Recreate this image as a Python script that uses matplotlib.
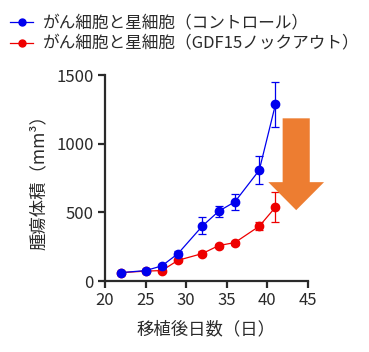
import matplotlib
matplotlib.use("Agg")
import matplotlib.pyplot as plt
from matplotlib.patches import FancyArrow
from matplotlib.lines import Line2D

plt.rcParams['font.family'] = ['Noto Sans CJK JP', 'DejaVu Sans']

# Tumour volume (mm^3) by day after transplantation
days = [22, 25, 27, 29, 32, 34, 36, 39, 41]
ctrl_mean = [61, 76, 110, 200, 401, 508, 577, 807, 1287]
ctrl_err = [8, 10, 15, 20, 62, 40, 60, 102, 163]
ko_mean = [61, 72, 76, 151, 200, 258, 280, 399, 538]
ko_err = [6, 8, 10, 12, 15, 15, 15, 30, 107]

ctrl_label = "がん細胞と星細胞（コントロール）"
ko_label = "がん細胞と星細胞（GDF15ノックアウト）"
xticks = [20, 25, 30, 35, 40, 45]
yticks = [0, 500, 1000, 1500]

blue = "#0000EE"
red = "#EE0000"
ink = "#2a2a2a"

fig = plt.figure(figsize=(3.69, 3.52), dpi=100)
ax = fig.add_axes([0.2846, 0.2017, 0.55, 0.585])

ax.errorbar(days, ctrl_mean, yerr=ctrl_err, color=blue, marker='o', ms=6,
            lw=0.9, elinewidth=0.9, capsize=3, capthick=0.9, zorder=3)
ax.errorbar(days, ko_mean, yerr=ko_err, color=red, marker='o', ms=6,
            lw=0.9, elinewidth=0.9, capsize=3, capthick=0.9, zorder=2)

# Downward arrow marking the reduction at day 41
arrow = FancyArrow(43.55, 1185, 0, -669, width=3.34, head_width=6.86,
                   head_length=204, length_includes_head=True,
                   color="#ED7D31", lw=0, clip_on=False, zorder=4)
ax.add_patch(arrow)

ax.set_xlim(20, 45)
ax.set_ylim(0, 1500)
ax.set_xticks(xticks)
ax.set_yticks(yticks)
for s in ['top', 'right']:
    ax.spines[s].set_visible(False)
for s in ['left', 'bottom']:
    ax.spines[s].set_linewidth(1.6)
    ax.spines[s].set_color(ink)
ax.tick_params(axis='both', direction='out', length=5, width=1.6,
               labelsize=12, colors=ink, pad=3)

ax.set_xlabel("移植後日数（日）", fontsize=12.5, color=ink, labelpad=8)
ax.set_ylabel("腫瘍体積（mm³）", fontsize=12.5, color=ink, labelpad=6)

handles = [Line2D([], [], color=blue, marker='o', ms=5, lw=0.9),
           Line2D([], [], color=red, marker='o', ms=5, lw=0.9)]
leg = fig.legend(handles, [ctrl_label, ko_label], loc='upper left',
                 bbox_to_anchor=(0.0, 0.985), frameon=False, fontsize=12,
                 handlelength=1.4, handletextpad=0.6, labelspacing=0.2,
                 borderaxespad=0.2)
for t in leg.get_texts():
    t.set_color(ink)

fig.savefig("out.png", dpi=100)
